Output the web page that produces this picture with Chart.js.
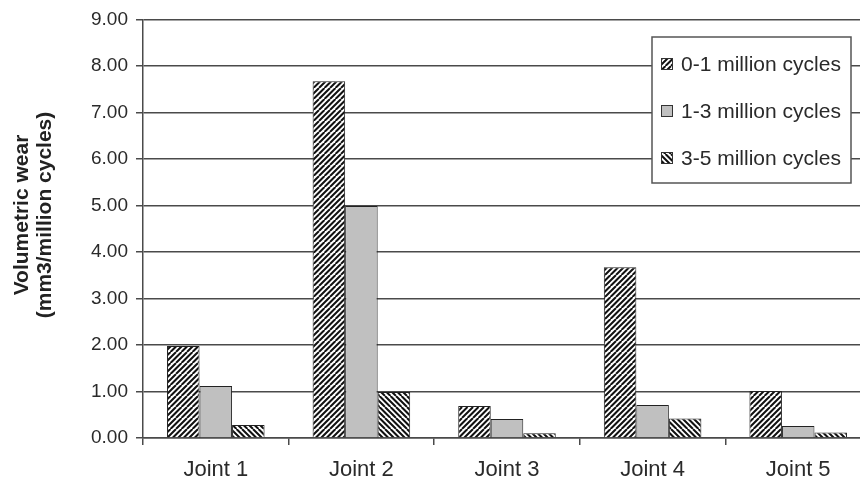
<!DOCTYPE html>
<html>
<head>
<meta charset="utf-8">
<script src="https://cdn.jsdelivr.net/npm/chart.js@4"></script>
<style>
  body { margin: 0; background: #fff; overflow: hidden; }
  #wrap { width: 860px; height: 488px; overflow: hidden; }
</style>
</head>
<body>
<div id="wrap"><canvas id="wear-chart" width="871" height="488"></canvas></div>
<script>
// values
var joints = ['Joint 1', 'Joint 2', 'Joint 3', 'Joint 4', 'Joint 5'];
var cycles01 = [1.98, 7.67, 0.69, 3.67, 1.01];
var cycles13 = [1.12, 4.99, 0.41, 0.71, 0.26];
var cycles35 = [0.28, 0.99, 0.10, 0.42, 0.12];
var seriesNames = ['0-1 million cycles', '1-3 million cycles', '3-5 million cycles'];
var yTicks = [0, 1, 2, 3, 4, 5, 6, 7, 8, 9];

var FONT = '"Liberation Sans", Arial, sans-serif';

// diagonal hatch pattern, dir 1 = "/" , -1 = "\"
function hatch(dir) {
    var s = 11;
    var c = document.createElement('canvas');
    c.width = s; c.height = s;
    var g = c.getContext('2d');
    g.fillStyle = '#fff';
    g.fillRect(0, 0, s, s);
    g.strokeStyle = '#111';
    g.lineWidth = 2;
    g.beginPath();
    [-s, -s / 2, 0, s / 2, s].forEach(function (k) {
        if (dir > 0) { g.moveTo(k, s); g.lineTo(k + s, 0); }
        else { g.moveTo(k, 0); g.lineTo(k + s, s); }
    });
    g.stroke();
    return g.createPattern(c, 'repeat');
}

var ctx = document.getElementById('wear-chart').getContext('2d');
var fills = [hatch(1), '#c0c0c0', hatch(-1)];

// y title (two lines, rotated) and the boxed legend inside the plot
var extras = {
    id: 'extras',
    afterDatasetsDraw: function (chart) {
        var c = chart.ctx;
        c.save();
        // legend box
        c.fillStyle = '#fff';
        c.fillRect(652, 37, 199, 146);
        c.strokeStyle = '#555';
        c.lineWidth = 1.5;
        c.strokeRect(652, 37, 199, 146);
        c.font = '21px ' + FONT;
        c.textBaseline = 'middle';
        seriesNames.forEach(function (name, i) {
            var y = 64 + i * 47;
            c.fillStyle = fills[i];
            c.fillRect(661, y - 6, 12, 12);
            c.strokeStyle = '#333';
            c.lineWidth = 1;
            c.strokeRect(661.5, y - 5.5, 11, 11);
            c.fillStyle = '#2a2a2a';
            c.fillText(name, 681, y + 1);
        });
        // axis title
        c.font = 'bold 21px ' + FONT;
        c.fillStyle = '#222';
        c.textAlign = 'center';
        c.textBaseline = 'alphabetic';
        [['Volumetric wear', 28], ['(mm3/million cycles)', 51]].forEach(function (t) {
            c.save();
            c.translate(t[1], 215);
            c.rotate(-Math.PI / 2);
            c.fillText(t[0], 0, 0);
            c.restore();
        });
        c.restore();
    }
};

var wearChart = new Chart(ctx, {
    type: 'bar',
    data: {
        labels: joints,
        datasets: [
            { label: seriesNames[0], data: cycles01, backgroundColor: fills[0] },
            { label: seriesNames[1], data: cycles13, backgroundColor: fills[1] },
            { label: seriesNames[2], data: cycles35, backgroundColor: fills[2] }
        ]
    },
    options: {
        responsive: false,
        animation: false,
        layout: { padding: { top: 19, left: 0, right: 0, bottom: 0 } },
        datasets: {
            bar: {
                borderColor: '#222',
                borderWidth: 1,
                barPercentage: 1,
                categoryPercentage: 0.67
            }
        },
        plugins: {
            legend: { display: false },
            tooltip: { enabled: false }
        },
        scales: {
            x: {
                grid: { drawOnChartArea: false, tickLength: 7, color: '#4a4a4a', lineWidth: 1.5 },
                border: { color: '#4a4a4a', width: 1.5 },
                ticks: { color: '#2a2a2a', font: { family: FONT, size: 22 }, padding: 12 },
                afterFit: function (scale) { scale.height = 50; }
            },
            y: {
                min: 0,
                max: 9,
                afterBuildTicks: function (scale) {
                    scale.ticks = yTicks.map(function (v) { return { value: v }; });
                },
                grid: { color: '#4a4a4a', lineWidth: 1.5, tickLength: 7 },
                border: { color: '#4a4a4a', width: 1.5 },
                ticks: {
                    color: '#2a2a2a',
                    font: { family: FONT, size: 19 },
                    padding: 8,
                    callback: function (v) { return v.toFixed(2); }
                },
                afterFit: function (scale) { scale.width = 143; }
            }
        }
    },
    plugins: [extras]
});
</script>
</body>
</html>
